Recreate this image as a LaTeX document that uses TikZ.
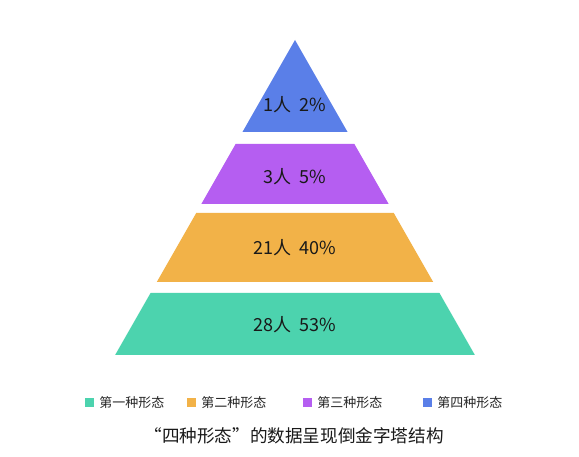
\documentclass[tikz,border=0pt]{standalone}
\usepackage{fontspec}
\setmainfont{Noto Sans CJK SC}
\usetikzlibrary{positioning}
\definecolor{formone}{RGB}{76,211,174}
\definecolor{formtwo}{RGB}{242,178,72}
\definecolor{formthree}{RGB}{181,94,241}
\definecolor{formfour}{RGB}{90,127,232}
\begin{document}
\begin{tikzpicture}[x=1pt, y=-1pt,
	layerlabel/.style={font=\fontsize{18}{18}\selectfont, text=black!90, inner sep=0pt},
	legendbox/.style={rectangle, minimum size=9pt, inner sep=0pt},
	legendtext/.style={font=\fontsize{13}{13}\selectfont, text=black!85, inner sep=0pt},
	titletext/.style={font=\fontsize{17.6}{17.6}\selectfont, text=black!90, inner sep=0pt},
	]
	\useasboundingbox[fill=white] (0,0) rectangle (579,457);

	% Layers
	\foreach \ytop/\ybot/\ylab/\col/\nm/\txt in {
		40/132/105/formfour/four/{1人\hspace{0.45em}2\%},
		144/204/177/formthree/three/{3人\hspace{0.45em}5\%},
		213/282/248/formtwo/two/{21人\hspace{0.45em}40\%},
		293/355/325/formone/one/{28人\hspace{0.45em}53\%}}{
		\fill[\col] ({295-0.571*(\ytop-40)},\ytop) -- ({295+0.571*(\ytop-40)},\ytop)
			-- ({295+0.571*(\ybot-40)},\ybot) -- ({295-0.571*(\ybot-40)},\ybot) -- cycle;
		\node[layerlabel] (label_\nm) at (295,\ylab) {\txt};
	}

	% Legend
	\node[legendbox, fill=formone]   (box_one)   at (89.5,402.5)  {};
	\node[legendbox, fill=formtwo]   (box_two)   at (191.5,402.5) {};
	\node[legendbox, fill=formthree] (box_three) at (307.5,402.5) {};
	\node[legendbox, fill=formfour]  (box_four)  at (427.5,402.5) {};
	\node[legendtext, right=5pt of box_one]   (text_one)   {第一种形态};
	\node[legendtext, right=5pt of box_two]   (text_two)   {第二种形态};
	\node[legendtext, right=5pt of box_three] (text_three) {第三种形态};
	\node[legendtext, right=5pt of box_four]  (text_four)  {第四种形态};

	% Title
	\node[titletext] (title) at (294,436) {“四种形态”的数据呈现倒金字塔结构};
\end{tikzpicture}
\end{document}
